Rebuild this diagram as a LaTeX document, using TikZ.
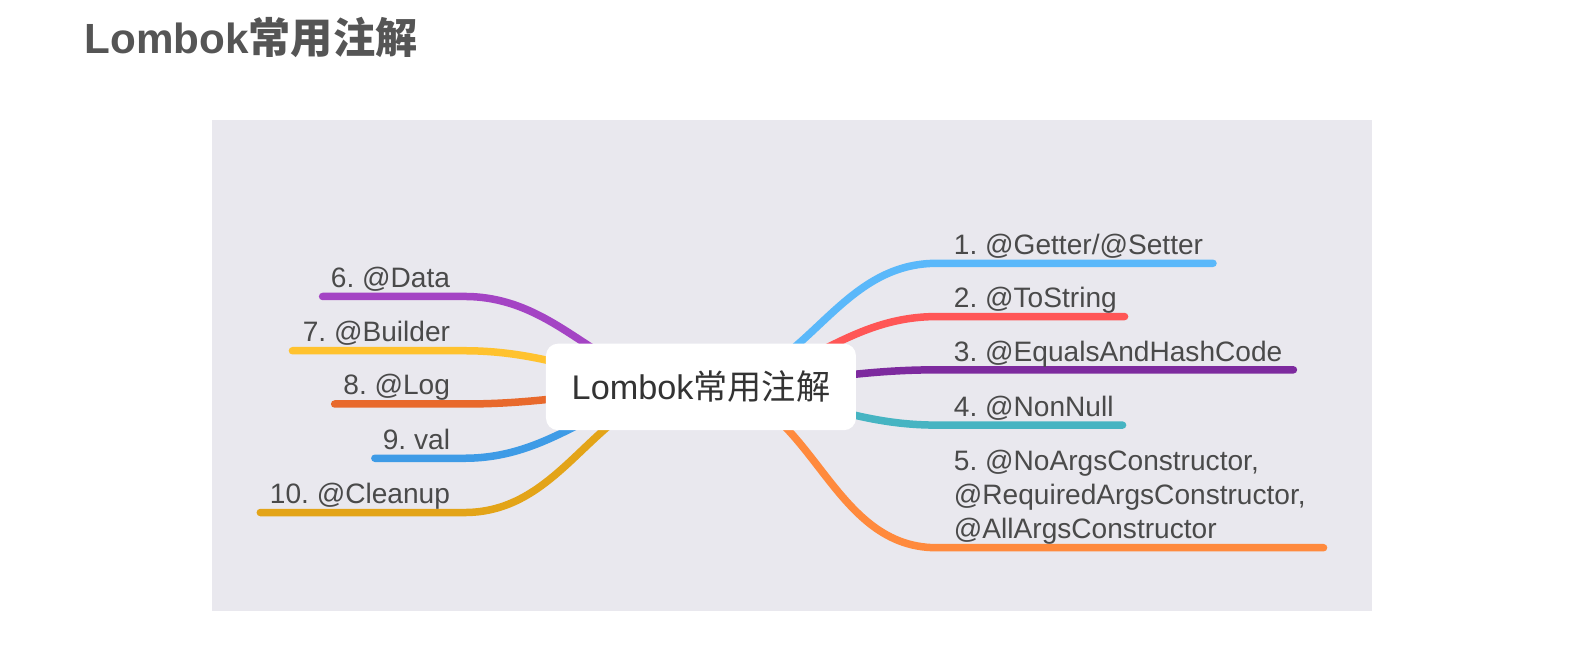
\documentclass[tikz,border=0pt]{standalone}
\usepackage{fontspec}
\setmainfont{Liberation Sans}
\newfontfamily\cjk{Noto Sans CJK SC}
\usetikzlibrary{backgrounds}
\frenchspacing

\definecolor{bgcol}{HTML}{E9E8EE}
\definecolor{titlecol}{HTML}{555555}
\definecolor{textcol}{HTML}{4A4A4A}
\definecolor{rootcol}{HTML}{333333}
\definecolor{cGetter}{HTML}{5AB8FA}
\definecolor{cToString}{HTML}{FF5656}
\definecolor{cEquals}{HTML}{7D2A9E}
\definecolor{cNonNull}{HTML}{46B4C2}
\definecolor{cCtor}{HTML}{FF8A3D}
\definecolor{cData}{HTML}{A444C4}
\definecolor{cBuilder}{HTML}{FFC22E}
\definecolor{cLog}{HTML}{E8692C}
\definecolor{cVal}{HTML}{3E9BE6}
\definecolor{cCleanup}{HTML}{E3A418}

\newcommand{\RightX}{949}
\newcommand{\LeftX}{448}

\begin{document}
\begin{tikzpicture}[x=1.005pt,y=-1.005pt,
  branch/.style={line width=7.5pt,line cap=round},
  leaf/.style={inner sep=0pt,text=textcol,font=\fontsize{28.1}{33.7}\selectfont},
  rightbranch/.style={branch,out=0,in=180},
  leftbranch/.style={branch,out=180,in=0}]

\useasboundingbox (0,0) rectangle (1568.2,651.7);

% title
\node[anchor=base west,inner sep=0pt,text=titlecol,
  font=\fontsize{42.2}{48}\selectfont\bfseries] (title) at (84,53) {Lombok{\cjk 常用注解}};

% centre
\node[fill=white,rounded corners=12pt,minimum width=310pt,minimum height=86.5pt,
  inner sep=0pt,text=rootcol,font=\fontsize{34.2}{40}\selectfont] (root) at (697.5,385) {Lombok{\cjk 常用注解}};

% bends and ends of the branches
\coordinate (getterK) at (932,262);   \coordinate (getterE) at (1207,262);
\coordinate (tostrK) at (932,315);    \coordinate (tostrE) at (1119,315);
\coordinate (equalsK) at (932,368);   \coordinate (equalsE) at (1287,368);
\coordinate (nonnullK) at (932,423);  \coordinate (nonnullE) at (1117,423);
\coordinate (ctorK) at (932,545);     \coordinate (ctorE) at (1317,545);

\coordinate (dataK) at (462,295);     \coordinate (dataE) at (321,295);
\coordinate (builderK) at (462,349);  \coordinate (builderE) at (291,349);
\coordinate (logK) at (462,402);      \coordinate (logE) at (333,402);
\coordinate (valK) at (462,456);      \coordinate (valE) at (373,456);
\coordinate (cleanupK) at (462,510);  \coordinate (cleanupE) at (259,510);

\begin{scope}[on background layer]
\fill[bgcol] (211,119) rectangle (1365,608);

\draw[rightbranch,cGetter] (root.center) to (getterK) -- (getterE);
\draw[rightbranch,cToString] (root.center) to (tostrK) -- (tostrE);
\draw[rightbranch,cEquals] (root.center) to (equalsK) -- (equalsE);
\draw[rightbranch,cNonNull] (root.center) to (nonnullK) -- (nonnullE);
\draw[rightbranch,cCtor] (root.center) to (ctorK) -- (ctorE);

\draw[leftbranch,cData] (root.center) to (dataK) -- (dataE);
\draw[leftbranch,cBuilder] (root.center) to (builderK) -- (builderE);
\draw[leftbranch,cLog] (root.center) to (logK) -- (logE);
\draw[leftbranch,cVal] (root.center) to (valK) -- (valE);
\draw[leftbranch,cCleanup] (root.center) to (cleanupK) -- (cleanupE);
\end{scope}

% labels, right
\node[leaf,anchor=base west] (getter) at (\RightX,253) {1. @Getter/@Setter};
\node[leaf,anchor=base west] (tostr) at (\RightX,306) {2. @ToString};
\node[leaf,anchor=base west] (equals) at (\RightX,360) {3. @EqualsAndHashCode};
\node[leaf,anchor=base west] (nonnull) at (\RightX,414) {4. @NonNull};
\node[leaf,anchor=north west,align=left] (ctor) at (\RightX,448)
  {5. @NoArgsConstructor,\\@RequiredArgsConstructor,\\@AllArgsConstructor};

% labels, left
\node[leaf,anchor=base east] (data) at (\LeftX,286) {6. @Data};
\node[leaf,anchor=base east] (builder) at (\LeftX,340) {7. @Builder};
\node[leaf,anchor=base east] (log) at (\LeftX,393) {8. @Log};
\node[leaf,anchor=base east] (val) at (\LeftX,447) {9. val};
\node[leaf,anchor=base east] (cleanup) at (\LeftX,501) {10. @Cleanup};

\end{tikzpicture}
\end{document}
